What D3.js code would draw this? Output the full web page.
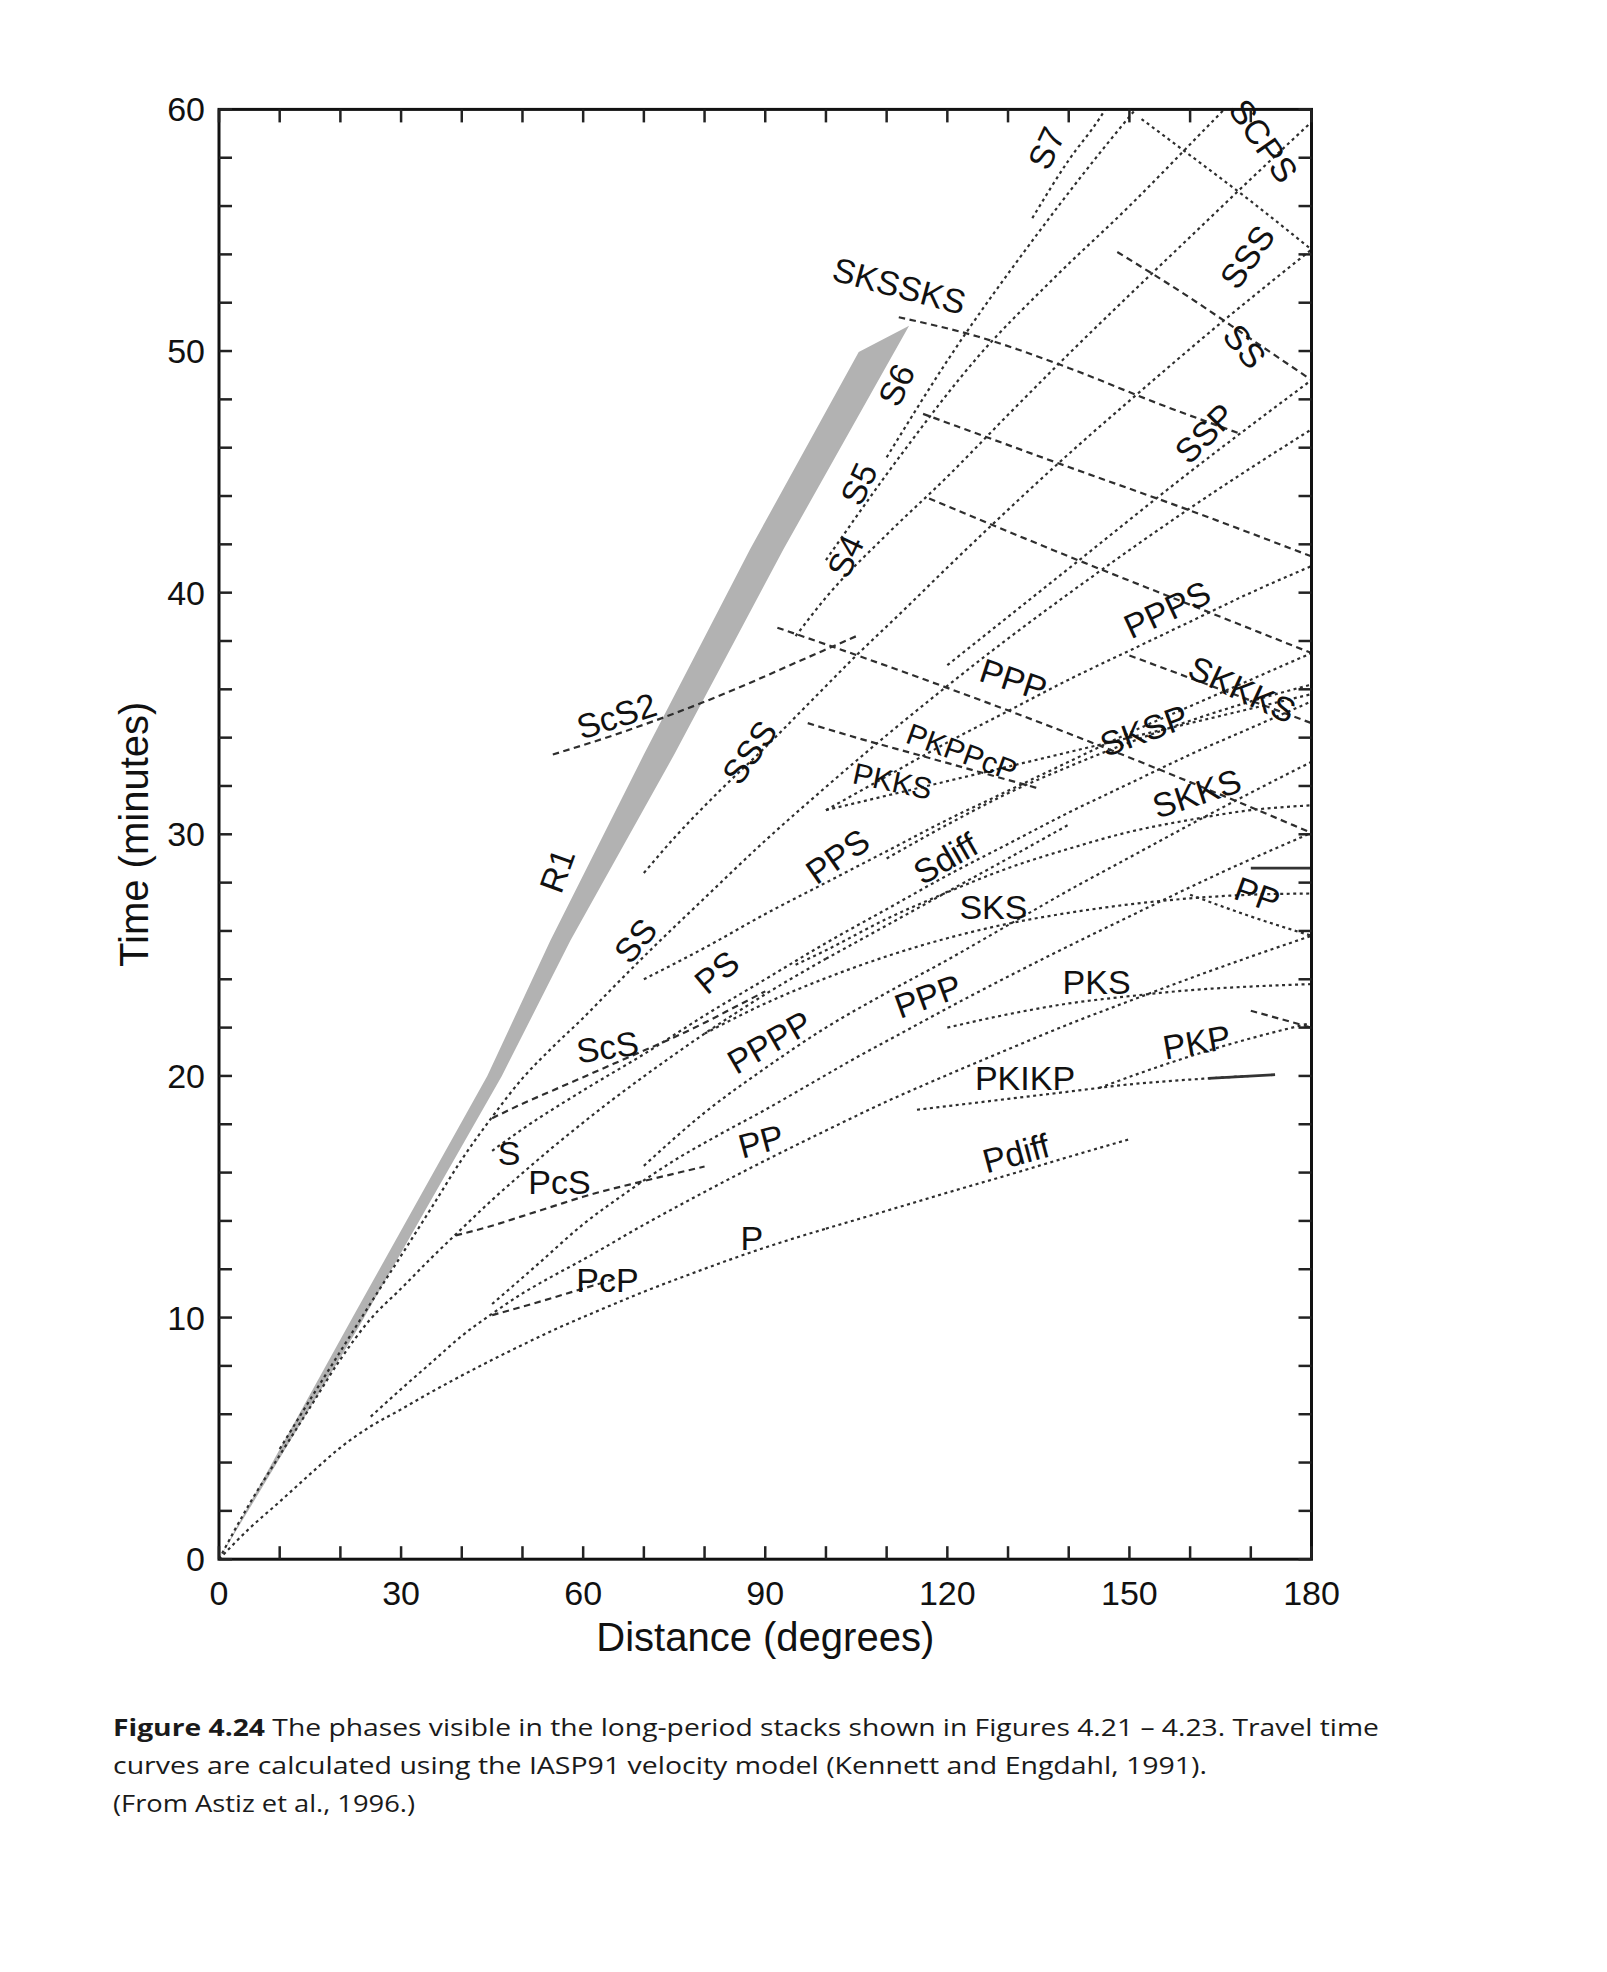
<!DOCTYPE html>
<html><head><meta charset="utf-8">
<script src="https://cdn.jsdelivr.net/npm/d3@7"></script>
<style>body{margin:0;background:#fff}</style>
</head><body>
<svg id="chart" width="1607" height="1972"></svg>
<script>
// ---- tick values ----
const xTicks = [0, 30, 60, 90, 120, 150, 180];
const yTicks = [0, 10, 20, 30, 40, 50, 60];

// ---- travel-time curves: [distance (deg), time (min)] ----
const P = [[0,0],[5,1.27],[10,2.38],[15,3.52],[20,4.62],[25,5.5],[30,6.2],[35,6.92],[40,7.6],[45,8.25],[50,8.87],[55,9.47],[60,10.02],[65,10.55],[70,11.07],[75,11.55],[80,12.02],[85,12.47],[90,12.9],[95,13.3],[100,13.68]];
const Pdiff = [[100,13.68],[110,14.42],[120,15.17],[130,15.9],[140,16.65],[150,17.38]];
const PcP = [[45,10.1],[50,10.45],[55,10.82],[60,11.2],[65,11.58]];
const PP = [[25,5.9],[30,7.04],[35,8.14],[40,9.24],[45,10.16],[50,11.0],[55,11.72],[60,12.4],[70,13.84],[80,15.2],[90,16.5],[100,17.74],[110,18.94],[120,20.04],[130,21.1],[140,22.14],[150,23.1],[160,24.04],[170,24.94],[180,25.8]];
const PPmajor = [[160,27.5],[170,26.6],[180,25.8]];
const PPP = [[45,10.56],[52.5,12.2],[60,13.86],[67.5,15.24],[75,16.5],[82.5,17.58],[90,18.6],[97.5,19.68],[105,20.76],[112.5,21.78],[120,22.8],[135,24.75],[150,26.6],[165,28.4],[180,30.06]];
const PPPmajor = [[92,38.55],[100,37.86],[120,36.06],[140,34.17],[160,32.16],[180,30.06]];
const PPPP = [[70,16.28],[80,18.48],[90,20.32],[100,22.0],[110,23.44],[120,24.8],[130,26.24],[140,27.68],[150,29.04],[160,30.4],[170,31.72],[180,33.0]];
const S = [[0,0],[5,2.28],[10,4.3],[15,6.28],[20,8.27],[25,9.95],[30,11.2],[35,12.47],[40,13.68],[45,14.87],[50,15.98],[55,17.05],[60,18.07],[65,19.05],[70,19.98],[75,20.88],[80,21.75],[85,22.58],[90,23.38],[95,24.13],[100,24.85]];
const Sdiff = [[100,24.85],[110,26.23],[120,27.62],[130,29.0],[140,30.4]];
const PcS = [[39,13.4],[45,13.8],[50,14.2],[55,14.6],[60,15.0],[70,15.65],[80,16.25]];
const ScS = [[45,18.25],[50,18.85],[55,19.4],[60,19.95],[65,20.5],[70,21.05],[75,21.6],[80,22.2],[85,22.85],[90,23.5]];
const SS = [[10,4.56],[15,6.6],[20,8.6],[25,10.6],[30,12.56],[35,14.54],[40,16.54],[45,18.3],[50,19.9],[55,21.2],[60,22.4],[65,23.68],[70,24.94],[80,27.36],[90,29.74],[100,31.96],[110,34.1],[120,36.14],[130,38.1],[140,39.96],[150,41.76],[160,43.5],[170,45.16],[180,46.76]];
const SSmajor = [[148,54.1],[160,52.2],[170,50.5],[180,48.8]];
const SSS = [[70,28.4],[75,29.85],[82.5,31.8],[90,33.6],[97.5,35.5],[105,37.4],[112.5,39.2],[120,41.04],[127.5,42.84],[135,44.6],[142.5,46.3],[150,47.94],[165,51.15],[180,54.2]];
const SSSmajor = [[152,59.6],[160,58.1],[170,56.2],[180,54.2]];
const S4 = [[95,38.2],[100,39.8],[110,42.4],[120,44.8],[130,47.36],[140,49.88],[150,52.32],[160,54.72],[170,57.12],[180,59.48]];
const S5 = [[100,41.35],[112.5,45.75],[125,49.75],[137.5,53.0],[150,56.0],[162.5,59.2],[166,60.1]];
const S6 = [[110,45.6],[120,49.6],[135,54.9],[150,59.7],[152,60.3]];
const S7 = [[134,55.5],[140,57.9],[145,59.6],[147,60.4]];
const ScS2 = [[55,33.3],[65,34.1],[75,35.0],[85,36.0],[95,37.1],[105,38.2]];
const SKSSKS = [[112,51.4],[125,50.6],[140,49.3],[155,47.8],[168,46.6]];
const PS = [[45,16.9],[50,17.8],[60,19.4],[70,20.9],[80,22.5],[90,24.0],[100,25.5],[110,26.9],[120,28.3],[130,29.6],[140,30.9],[150,32.1],[160,33.3],[170,34.4],[180,35.5]];
const PPS = [[70,24.0],[80,25.3],[90,26.7],[100,28.0],[110,29.3],[120,30.6],[130,31.8],[140,33.0],[150,34.2],[160,35.3],[170,36.4],[180,37.5]];
const PPPS = [[100,31.0],[110,32.4],[120,33.8],[130,35.1],[140,36.4],[150,37.6],[160,38.8],[170,40.0],[180,41.1]];
const SSP = [[120,37.0],[140,41.0],[160,45.0],[180,48.8]];
const SKS = [[80,21.75],[90,23.0],[100,24.05],[110,24.95],[120,25.7],[130,26.3],[140,26.75],[150,27.1],[160,27.35],[170,27.5],[180,27.55]];
const SKKS = [[95,24.6],[100,25.2],[110,26.5],[120,27.6],[130,28.6],[140,29.4],[150,30.1],[160,30.6],[170,31.0],[180,31.2]];
const SKSP = [[110,29.0],[120,30.4],[130,31.7],[140,32.8],[150,33.8],[160,34.7],[170,35.5],[180,36.2]];
const PKKS = [[100,31.0],[110,31.6],[120,32.2],[130,32.8],[140,33.4],[150,34.0],[160,34.6],[170,35.2],[180,35.8]];
const PKPPcP = [[97,34.6],[105,34.0],[115,33.3],[125,32.6],[135,31.9]];
const SKKKS = [[150,37.4],[165,36.0],[180,34.6]];
const downA = [[116,47.4],[140,45.2],[160,43.4],[180,41.5]];
const downB = [[117,43.9],[140,41.5],[160,39.5],[180,37.5]];
const PKIKP = [[115,18.6],[120,18.75],[130,19.05],[140,19.35],[150,19.65],[160,19.85],[170,20.0]];
const PKIKPsolid = [[163,19.9],[174,20.05]];
const PKP = [[145,19.5],[155,20.4],[165,21.2],[180,22.2]];
const PKPbc = [[170,22.7],[180,22.0]];
const PKS = [[120,22.0],[130,22.55],[140,23.0],[150,23.3],[160,23.55],[170,23.7],[180,23.8]];
const solidPP = [[170,28.6],[180,28.6]];
// surface-wave (R1) band outline
const R1band = [[0,0],[22,10.0],[44.2,20.0],[54.6,25.6],[70,33.3],[87.5,41.8],[105.4,49.96],[113.7,51.05],[108.9,48.9],[93,41.8],[75,33.3],[57.9,25.6],[46.6,20.0],[23,9.6],[0,0]];

// ---- phase labels: text, distance, time, rotation ----
const labelText = ["S7","SCPS","SKSSKS","SSS","SS","S6","SSP","S5","S4","PPPS","PPP","SKKKS","ScS2","SSS","SKSP","PKPPcP","PKKS","SKKS","PPS","Sdiff","R1","PP","SS","SKS","PS","PKS","PPP","ScS","PPPP","PKP","PKIKP","PP","Pdiff","S","PcS","P","PcP"];
const labelDeg  = [136.3,172.1,112.1,169.4,169.0,111.6,162.4,105.4,103.2,156.2,130.9,168.6,65.5,87.4,152.4,122.4,111.0,161.1,101.9,119.7,55.7,171.1,68.6,127.6,82.0,144.6,116.8,64.0,90.7,161.1,132.8,89.3,131.3,47.8,56.1,87.8,64.0];
const labelMin  = [58.4,58.7,52.7,53.9,50.2,48.6,46.6,44.5,41.5,39.3,36.4,36.0,34.9,33.4,34.3,33.4,32.2,31.7,29.1,29.0,28.5,27.5,25.6,27.0,24.3,23.9,23.3,21.2,21.4,21.4,19.9,17.3,16.8,16.8,15.6,13.3,11.55];
const labelRot  = [-65,55,15,-55,50,-65,-45,-65,-65,-25,18,25,-18,-55,-20,20,12,-18,-35,-30,-70,20,-50,0,-40,0,-20,-8,-30,-10,0,-15,-15,0,0,0,0];

// ---- caption ----
const captionLines = [
  ["Figure 4.24", "  The phases visible in the long-period stacks shown in Figures 4.21 – 4.23. Travel time"],
  ["", "curves are calculated using the IASP91 velocity model (Kennett and Engdahl, 1991)."],
  ["", "(From Astiz et al., 1996.)"]
];

// ================= drawing =================
const svg = d3.select("#chart");
const L = 219, R = 1311.5, T = 109.4, B = 1559.2;
const x = d3.scaleLinear().domain([0,180]).range([L,R]);
const y = d3.scaleLinear().domain([0,60]).range([B,T]);

svg.append("defs").append("clipPath").attr("id","plotclip")
  .append("rect").attr("x",L).attr("y",T).attr("width",R-L).attr("height",B-T);

const plot = svg.append("g").attr("clip-path","url(#plotclip)");

// R1 band
plot.append("path").datum(R1band)
  .attr("d", d3.line().x(d=>x(d[0])).y(d=>y(d[1])).curve(d3.curveLinear))
  .attr("fill","#b2b2b2").attr("stroke","none");

const line = d3.line().x(d=>x(d[0])).y(d=>y(d[1])).curve(d3.curveMonotoneX);

const fine = [P,Pdiff,PP,PPP,PPPP,S,Sdiff,SS,SSS,S4,S5,S6,S7,PS,PPS,PPPS,SSP,SKS,SKKS,SKSP,PKKS,PKIKP,PKP,PKS,SSSmajor,PPmajor];
const coarse = [PcP,PcS,ScS,ScS2,SKSSKS,SSmajor,PPPmajor,PKPPcP,SKKKS,downA,downB,PKPbc];
const solid = [PKIKPsolid, solidPP];

fine.forEach(c => plot.append("path").datum(c).attr("d",line)
  .attr("fill","none").attr("stroke","#2e2e2e").attr("stroke-width",2.2)
  .attr("stroke-dasharray","3,3.5"));
coarse.forEach(c => plot.append("path").datum(c).attr("d",line)
  .attr("fill","none").attr("stroke","#2e2e2e").attr("stroke-width",2.2)
  .attr("stroke-dasharray","6.5,4.5"));
solid.forEach(c => plot.append("path").datum(c).attr("d",line)
  .attr("fill","none").attr("stroke","#333").attr("stroke-width",2.8));

// labels
const lab = svg.append("g").attr("font-family","'Liberation Sans', Arial, Helvetica, sans-serif")
  .attr("font-size",34).attr("fill","#111");
labelText.forEach((t,i)=>{
  const px = x(labelDeg[i]), py = y(labelMin[i]);
  lab.append("text").attr("x",px).attr("y",py)
    .attr("text-anchor","middle").attr("dominant-baseline","central")
    .attr("transform",`rotate(${labelRot[i]},${px},${py})`)
    .attr("font-size", (t==="PKKS"||t==="PKPPcP")?30:34)
    .text(t);
});

// frame
svg.append("rect").attr("x",L).attr("y",T).attr("width",R-L).attr("height",B-T)
  .attr("fill","none").attr("stroke","#111").attr("stroke-width",3);

// ticks
const xt = d3.range(0,181,10), yt = d3.range(0,61,2);
const tg = svg.append("g").attr("stroke","#222").attr("stroke-width",2.5);
xt.forEach(v=>{
  tg.append("line").attr("x1",x(v)).attr("x2",x(v)).attr("y1",B).attr("y2",B-13);
  tg.append("line").attr("x1",x(v)).attr("x2",x(v)).attr("y1",T).attr("y2",T+13);
});
yt.forEach(v=>{
  tg.append("line").attr("y1",y(v)).attr("y2",y(v)).attr("x1",L).attr("x2",L+13);
  tg.append("line").attr("y1",y(v)).attr("y2",y(v)).attr("x1",R).attr("x2",R-13);
});

const axf = "'Liberation Sans', Arial, Helvetica, sans-serif";
xTicks.forEach(v=>{
  svg.append("text").attr("x",x(v)).attr("y",B+46).attr("text-anchor","middle")
    .attr("font-family",axf).attr("font-size",34).attr("fill","#111").text(v);
});
yTicks.forEach(v=>{
  svg.append("text").attr("x",L-14).attr("y",y(v)+12).attr("text-anchor","end")
    .attr("font-family",axf).attr("font-size",34).attr("fill","#111").text(v);
});

svg.append("text").attr("x",(L+R)/2).attr("y",B+92).attr("text-anchor","middle")
  .attr("font-family",axf).attr("font-size",40).attr("fill","#111").text("Distance (degrees)");
svg.append("text").attr("transform",`translate(148,${(T+B)/2}) rotate(-90)`).attr("text-anchor","middle")
  .attr("font-family",axf).attr("font-size",40).attr("fill","#111").text("Time (minutes)");

// caption
const capY = [1736, 1774, 1812];
const capW = [1266, 1094, 302];
captionLines.forEach((ln,i)=>{
  const t = svg.append("text").attr("x",113).attr("y",capY[i])
    .attr("font-family","'Open Sans', 'Noto Sans', sans-serif").attr("font-size",24).attr("fill","#1a1a1a")
    .attr("textLength",capW[i]).attr("lengthAdjust","spacingAndGlyphs");
  if (ln[0]) t.append("tspan").attr("font-weight","bold").text(ln[0]);
  t.append("tspan").text(ln[1]);
});
</script>
</body></html>
